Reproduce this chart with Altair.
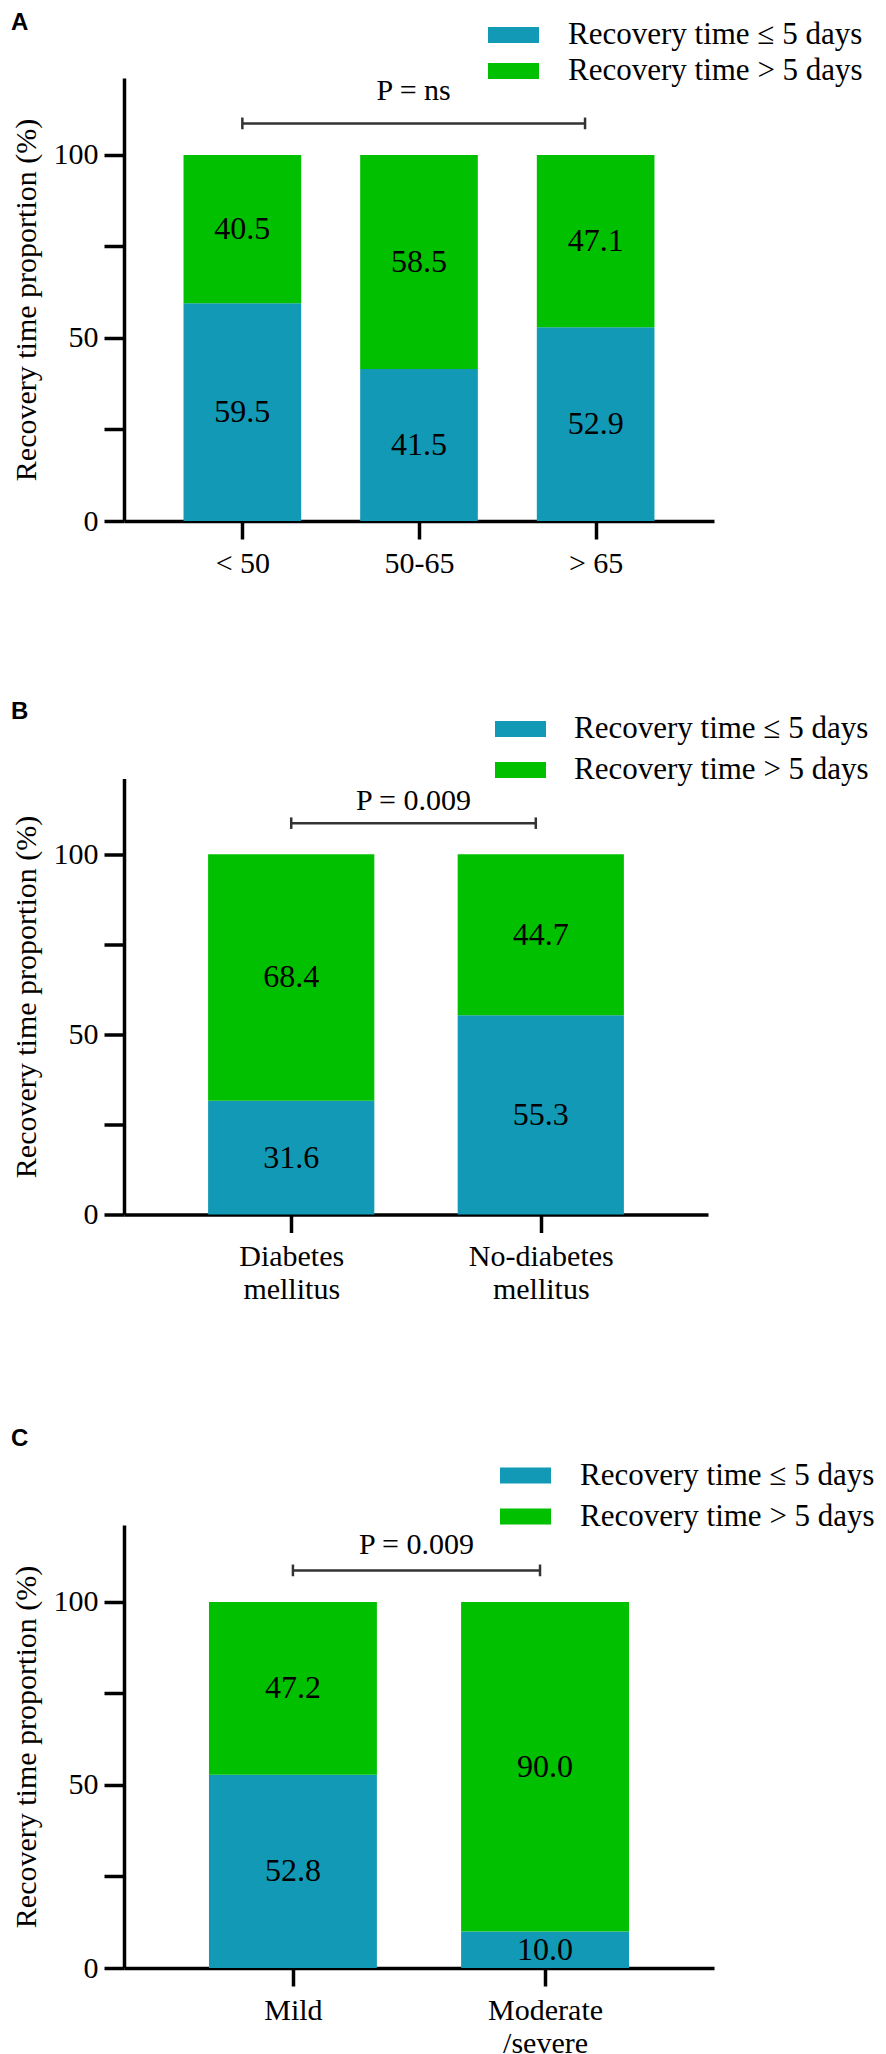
import json
import altair as alt
import pandas as pd

SERIF = "Liberation Serif"
SANS = "Liberation Sans"

SERIES = ["Recovery time \u2264 5 days", "Recovery time > 5 days"]
COLORS = ["#1199B5", "#00C000"]

A_CATS = [["< 50"], ["50-65"], ["> 65"]]
A_LE5 = [59.5, 41.5, 52.9]
A_GT5 = [40.5, 58.5, 47.1]
A_P = "P = ns"

B_CATS = [["Diabetes", "mellitus"], ["No-diabetes", "mellitus"]]
B_LE5 = [31.6, 55.3]
B_GT5 = [68.4, 44.7]
B_P = "P = 0.009"

C_CATS = [["Mild"], ["Moderate", "/severe"]]
C_LE5 = [52.8, 10.0]
C_GT5 = [47.2, 90.0]
C_P = "P = 0.009"

Y_TICKS = [0, 25, 50, 75, 100]
Y_MAX = 121
HALF = 0.333          # half bar width, in category steps
PAD = 0.67            # outer room, in category steps

# bracket right end, bracket height and P-text height per panel (data units)
BR_END = [1.94, 0.98, 0.98]
BR_Y = 108.6
CAP_LO, CAP_HI = 107.0, 110.2
P_Y = [115.0, 112.2, 113.1]


def panel(letter, cats, le5, gt5, ptext, br_end, p_y, width, height,
          legend_x, legend_y, clip_h, label_off, title_offset):
    n = len(cats)
    rows = []
    for i in range(n):
        rows.append(dict(idx=i, x0=i - HALF, x1=i + HALF, y0=0.0, y1=le5[i],
                         mid=le5[i] / 2, val=f"{le5[i]:.1f}", series=SERIES[0]))
        rows.append(dict(idx=i, x0=i - HALF, x1=i + HALF, y0=le5[i],
                         y1=le5[i] + gt5[i], mid=le5[i] + gt5[i] / 2,
                         val=f"{gt5[i]:.1f}", series=SERIES[1]))
    df = pd.DataFrame(rows)

    xscale = alt.Scale(domain=[-PAD, n - 1 + PAD], nice=False, zero=False)
    yscale = alt.Scale(domain=[0, Y_MAX], nice=False, zero=True)
    label_expr = json.dumps(cats) + "[datum.value]"

    def xaxis():
        return alt.Axis(values=list(range(n)), labelExpr=label_expr, title=None,
                        tickSize=18, labelPadding=9, labelLineHeight=33,
                        labelOverlap=False, labelFlush=False, labelBound=False)

    def yaxis():
        return alt.Axis(values=Y_TICKS, title="Recovery time proportion (%)",
                        labelExpr="datum.value % 50 == 0 ? datum.label : ''",
                        tickSize=20, labelPadding=6, titlePadding=12)

    bars = alt.Chart(df).mark_bar(strokeWidth=0).encode(
        x=alt.X("x0:Q", scale=xscale, axis=xaxis()),
        x2="x1",
        y=alt.Y("y0:Q", scale=yscale, axis=yaxis()),
        y2="y1",
        color=alt.Color(
            "series:N",
            scale=alt.Scale(domain=SERIES, range=COLORS),
            legend=alt.Legend(
                title=None, orient="none", legendX=legend_x, legendY=legend_y,
                symbolType="M-1,-0.314H1V0.314H-1Z", symbolSize=2601,
                symbolStrokeWidth=0, symbolOpacity=1,
                labelFont=SERIF, labelFontSize=31, labelColor="black",
                labelOffset=label_off, labelLimit=0, clipHeight=clip_h,
                rowPadding=0, padding=0,
            ),
        ),
    )

    labels = alt.Chart(df).mark_text(
        font=SERIF, fontSize=32, color="black", baseline="middle", align="center"
    ).encode(
        x=alt.X("idx:Q", scale=xscale, axis=xaxis()),
        y=alt.Y("mid:Q", scale=yscale, axis=yaxis()),
        text="val:N",
    )

    br = pd.DataFrame([dict(x=0.0, x2=br_end, y=BR_Y)])
    bracket = alt.Chart(br).mark_rule(color="#333333", strokeWidth=2.5).encode(
        x=alt.X("x:Q", scale=xscale, axis=xaxis()),
        x2="x2",
        y=alt.Y("y:Q", scale=yscale, axis=yaxis()),
    )
    caps_df = pd.DataFrame([dict(x=0.0, lo=CAP_LO, hi=CAP_HI),
                            dict(x=br_end, lo=CAP_LO, hi=CAP_HI)])
    caps = alt.Chart(caps_df).mark_rule(color="#333333", strokeWidth=2.5).encode(
        x=alt.X("x:Q", scale=xscale, axis=xaxis()),
        y=alt.Y("lo:Q", scale=yscale, axis=yaxis()),
        y2="hi",
    )
    pt_df = pd.DataFrame([dict(x=br_end / 2, y=p_y, t=ptext)])
    ptxt = alt.Chart(pt_df).mark_text(
        font=SERIF, fontSize=30, color="black", baseline="alphabetic", align="center"
    ).encode(
        x=alt.X("x:Q", scale=xscale, axis=xaxis()),
        y=alt.Y("y:Q", scale=yscale, axis=yaxis()),
        text="t:N",
    )

    return alt.layer(bars, labels, bracket, caps, ptxt).properties(
        width=width, height=height,
        title=alt.TitleParams(text=letter, anchor="start", frame="bounds",
                              font=SANS, fontSize=24, fontWeight="bold",
                              color="black", offset=title_offset),
    )


pA = panel("A", A_CATS, A_LE5, A_GT5, A_P, BR_END[0], P_Y[0], 590, 443,
           364, -61, 36, 29, -17.5)
pB = panel("B", B_CATS, B_LE5, B_GT5, B_P, BR_END[1], P_Y[1], 584, 436,
           371, -70, 41, 28, -15.5)
pC = panel("C", C_CATS, C_LE5, C_GT5, C_P, BR_END[2], P_Y[2], 590, 443,
           376, -70, 41, 29, 4.5)

chart = (
    alt.vconcat(pA, pB, pC, spacing=121.5)
    .resolve_scale(color="independent", x="independent", y="independent")
    .resolve_legend(color="independent")
    .properties(padding={"left": 3, "top": 2, "right": 0, "bottom": 0},
                background="white")
    .configure_view(stroke=None)
    .configure_axis(
        domainColor="black", domainWidth=3.5, tickColor="black", tickWidth=3.5,
        labelFont=SERIF, labelFontSize=30, labelColor="black", grid=False,
        titleFont=SERIF, titleFontSize=30, titleFontWeight="normal",
        titleColor="black",
    )
)

chart.save("out.html", embed_options={"renderer": "svg", "actions": False})
